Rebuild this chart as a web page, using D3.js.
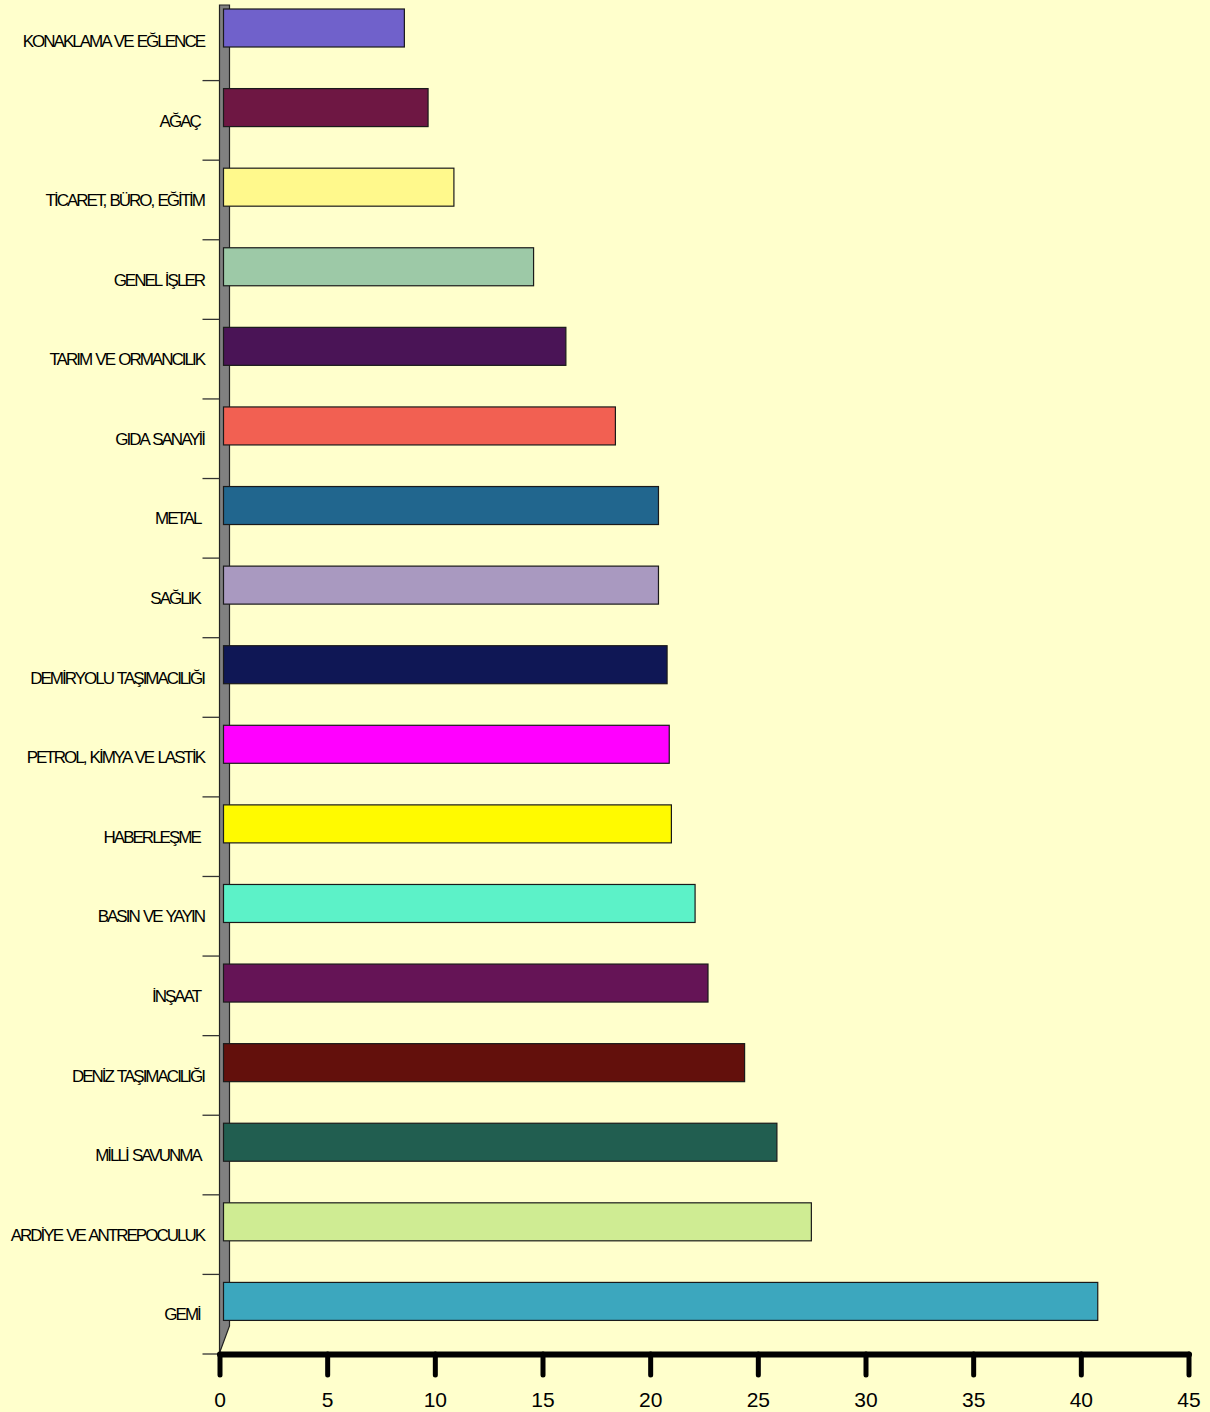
<!DOCTYPE html>
<html>
<head>
<meta charset="utf-8">
<script src="https://cdn.jsdelivr.net/npm/d3@7"></script>
<style>
  body { margin: 0; background: #ffffcc; }
  svg { display: block; }
  .cat-label { font-family: "Liberation Sans", Arial, sans-serif; font-size: 17px; letter-spacing: -2px; word-spacing: 1.5px; fill: #000; white-space: pre; }
  .x-axis text { font-family: "Liberation Sans Narrow", "Arial Narrow", "Liberation Sans", sans-serif; font-size: 21px; fill: #000; }
</style>
</head>
<body>
<svg id="chart"></svg>
<script>
const width = 1210;
const height = 1412;

// sectors, top to bottom as drawn
const categories = [
  "KONAKLAMA VE EĞLENCE", "AĞAÇ ", "TİCARET, BÜRO, EĞİTİM", "GENEL İŞLER",
  "TARIM VE ORMANCILIK", "GIDA SANAYİİ", "METAL ", "SAĞLIK ",
  "DEMİRYOLU TAŞIMACILIĞI", "PETROL, KİMYA VE LASTİK", "HABERLEŞME ", "BASIN VE YAYIN",
  "İNŞAAT ", "DENİZ TAŞIMACILIĞI", "MİLLİ SAVUNMA ", "ARDİYE VE ANTREPOCULUK", "GEMİ "
];
const values = [8.4, 9.5, 10.7, 14.4, 15.9, 18.2, 20.2, 20.2, 20.6, 20.7, 20.8, 21.9, 22.5, 24.2, 25.7, 27.3, 40.6];
const colors = [
  "#7061cb", "#6e1743", "#fff98c", "#9dc9a7", "#4a1456", "#f26052", "#21668e", "#a999c0",
  "#0f1755", "#ff00ff", "#fffa00", "#5cf2c8", "#651456", "#63100c", "#215e50", "#cfec93", "#3ca7be"
];
const xTicks = [0, 5, 10, 15, 20, 25, 30, 35, 40, 45];

const svg = d3.select("#chart")
    .attr("width", width)
    .attr("height", height);

svg.append("rect")
    .attr("width", width)
    .attr("height", height)
    .attr("fill", "#ffffcc");

const x = d3.scaleLinear()
    .domain([0, 45])
    .range([219.5, 1188.5]);

const y = d3.scaleBand()
    .domain(categories)
    .range([1, 1354]);

const depth = 10;     // 3d wall thickness
const barShift = 4;   // front face offset
const barH = 38;
const barTop = 8;

// back wall
const wx = x(0);
const yBottom = y.range()[1];
svg.append("path")
    .attr("d", `M${wx},5 H${wx + depth} V${yBottom - 28} L${wx},${yBottom - 1} Z`)
    .attr("fill", "#808080")
    .attr("stroke", "#222")
    .attr("stroke-width", 1.2);

// category tick marks
const bounds = categories.map(c => y(c)).concat([yBottom]);
svg.append("g")
  .selectAll("line")
  .data(bounds.slice(1))
  .join("line")
    .attr("x1", wx - 17)
    .attr("x2", wx)
    .attr("y1", d => d)
    .attr("y2", d => d)
    .attr("stroke", "#333")
    .attr("stroke-width", 1.3);

// bars
svg.append("g")
  .selectAll("rect")
  .data(categories)
  .join("rect")
    .attr("x", x(0) + barShift)
    .attr("y", d => y(d) + barTop)
    .attr("width", (d, i) => x(values[i]) - x(0))
    .attr("height", barH)
    .attr("fill", (d, i) => colors[i])
    .attr("stroke", "#1a1a1a")
    .attr("stroke-width", 1.2);

// category labels
svg.append("g")
  .selectAll("text")
  .data(categories)
  .join("text")
    .attr("class", "cat-label")
    .attr("x", 204)
    .attr("y", d => y(d) + y.bandwidth() / 2)
    .attr("dy", "0.36em")
    .attr("text-anchor", "end")
    .text(d => d);

// bottom axis
const xAxis = svg.append("g")
    .attr("class", "x-axis")
    .attr("transform", `translate(0,${yBottom})`)
    .call(d3.axisBottom(x).tickValues(xTicks).tickSize(21).tickSizeOuter(0).tickPadding(17));

xAxis.select(".domain")
    .attr("stroke", "#000")
    .attr("stroke-width", 6)
    .attr("stroke-linecap", "round");

xAxis.selectAll(".tick line")
    .attr("stroke", "#000")
    .attr("stroke-width", 5)
    .attr("stroke-linecap", "round");
</script>
</body>
</html>
